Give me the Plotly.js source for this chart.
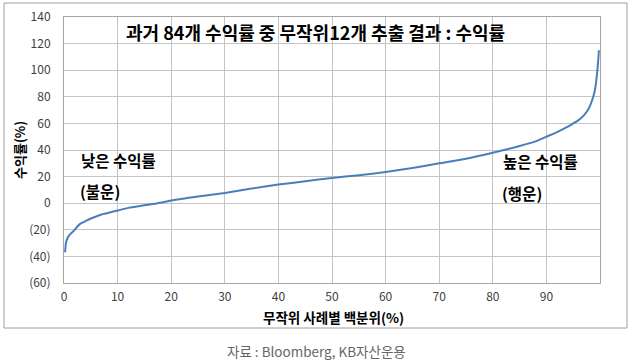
<!DOCTYPE html>
<html>
<head>
<meta charset="utf-8">
<script src="https://cdn.plot.ly/plotly-3.0.1.min.js"></script>
<style>html,body{margin:0;padding:0;background:#fff;}#chart{width:633px;height:364px;}</style>
</head>
<body>
<div id="chart"></div>
<script>
const percentile = [0.2, 0.4, 0.7, 1, 1.5, 2, 2.5, 3, 4, 5, 6, 7, 8, 10, 12, 15, 17.5, 20, 25, 30, 35, 40, 45, 50, 55, 60, 65, 70, 75, 80, 85, 88, 90, 92, 94, 95, 96, 97, 98, 98.5, 99, 99.3, 99.6, 99.8];
const returns = [-37, -29, -26, -24, -22, -20, -17.5, -15.5, -13.5, -11.5, -10, -8.5, -7.5, -5.5, -3.5, -1.5, 0, 2, 5, 7.7, 11, 14, 16.5, 19, 21, 23.5, 26.5, 30, 33.5, 38, 43, 46.5, 50, 53.5, 57.5, 60, 62.5, 66, 72, 77, 84, 92, 104, 115];
const xTicks = [0, 10, 20, 30, 40, 50, 60, 70, 80, 90];
const yTicks = [140, 120, 100, 80, 60, 40, 20, 0, -20, -40, -60];
const yTickText = ["140", "120", "100", "80", "60", "40", "20", "0", "(20)", "(40)", "(60)"];
const titleText = "과거 84개 수익률 중 무작위12개 추출 결과 : 수익률";
const xTitle = "무작위 사례별 백분위(%)";
const yTitle = "수익률(%)";
const lowLabel = ["낮은 수익률", "(불운)"];
const highLabel = ["높은 수익률", "(행운)"];
const sourceText = "자료 : Bloomberg, KB자산운용";

const F = '"Noto Sans CJK KR", "Noto Sans", sans-serif';
const trace = {
  x: percentile, y: returns, type: 'scatter', mode: 'lines',
  line: {color: '#4a7ebb', width: 2, shape: 'spline', smoothing: 0.6},
  hoverinfo: 'skip'
};
const W = 536, H = 266;
function px(x) { return (x - 64) / W; }
function py(y) { return (283 - y) / H; }
const layout = {
  width: 633, height: 364,
  margin: {l: 64, r: 33, t: 17, b: 81},
  paper_bgcolor: '#fff', plot_bgcolor: '#fff',
  showlegend: false,
  font: {family: F, size: 12, color: '#404040'},
  xaxis: {
    range: [0, 100], tickvals: xTicks, showgrid: true, gridcolor: '#c4c4c4', gridwidth: 1,
    zeroline: false, showline: true, linecolor: '#a6a6a6', mirror: true,
    ticks: 'outside', ticklen: 3, tickcolor: 'rgba(0,0,0,0)',
    tickfont: {family: F, size: 12, color: '#404040'}
  },
  yaxis: {
    range: [-60, 140], tickvals: yTicks, ticktext: yTickText, showgrid: true, gridcolor: '#c4c4c4', gridwidth: 1,
    zeroline: false, showline: true, linecolor: '#a6a6a6', mirror: true,
    ticks: 'outside', ticklen: 10, tickcolor: 'rgba(0,0,0,0)',
    tickfont: {family: F, size: 12, color: '#404040'}
  },
  shapes: [
    {type: 'rect', xref: 'paper', yref: 'paper', x0: px(4), x1: px(627), y0: py(328), y1: py(3),
     line: {color: '#a0a0a0', width: 1}, fillcolor: 'rgba(0,0,0,0)', layer: 'below'}
  ],
  annotations: [
    {text: '<b>' + titleText + '</b>', xref: 'paper', yref: 'paper', x: px(315), y: py(32), showarrow: false,
     font: {family: F, size: 18, color: '#000'}, xanchor: 'center', yanchor: 'middle'},
    {text: '<b>' + xTitle + '</b>', xref: 'paper', yref: 'paper', x: px(333), y: py(317), showarrow: false,
     font: {family: F, size: 13.5, color: '#000'}, xanchor: 'center', yanchor: 'middle'},
    {text: '<b>' + yTitle + '</b>', xref: 'paper', yref: 'paper', x: px(19), y: py(150), showarrow: false,
     textangle: -90, font: {family: F, size: 13, color: '#000'}, xanchor: 'center', yanchor: 'middle'},
    {text: '<b>' + lowLabel[0] + '</b>', xref: 'paper', yref: 'paper', x: px(79), y: py(160), showarrow: false,
     font: {family: F, size: 15.5, color: '#000'}, xanchor: 'left', yanchor: 'middle'},
    {text: '<b>' + lowLabel[1] + '</b>', xref: 'paper', yref: 'paper', x: px(78), y: py(191), showarrow: false,
     font: {family: F, size: 15.5, color: '#000'}, xanchor: 'left', yanchor: 'middle'},
    {text: '<b>' + highLabel[0] + '</b>', xref: 'paper', yref: 'paper', x: px(501), y: py(161), showarrow: false,
     font: {family: F, size: 15.5, color: '#000'}, xanchor: 'left', yanchor: 'middle'},
    {text: '<b>' + highLabel[1] + '</b>', xref: 'paper', yref: 'paper', x: px(500), y: py(193), showarrow: false,
     font: {family: F, size: 15.5, color: '#000'}, xanchor: 'left', yanchor: 'middle'},
    {text: sourceText, xref: 'paper', yref: 'paper', x: px(316), y: py(351), showarrow: false,
     font: {family: F, size: 13.5, color: '#666'}, xanchor: 'center', yanchor: 'middle'}
  ]
};
Plotly.newPlot('chart', [trace], layout, {staticPlot: true, displayModeBar: false});
</script>
</body>
</html>
